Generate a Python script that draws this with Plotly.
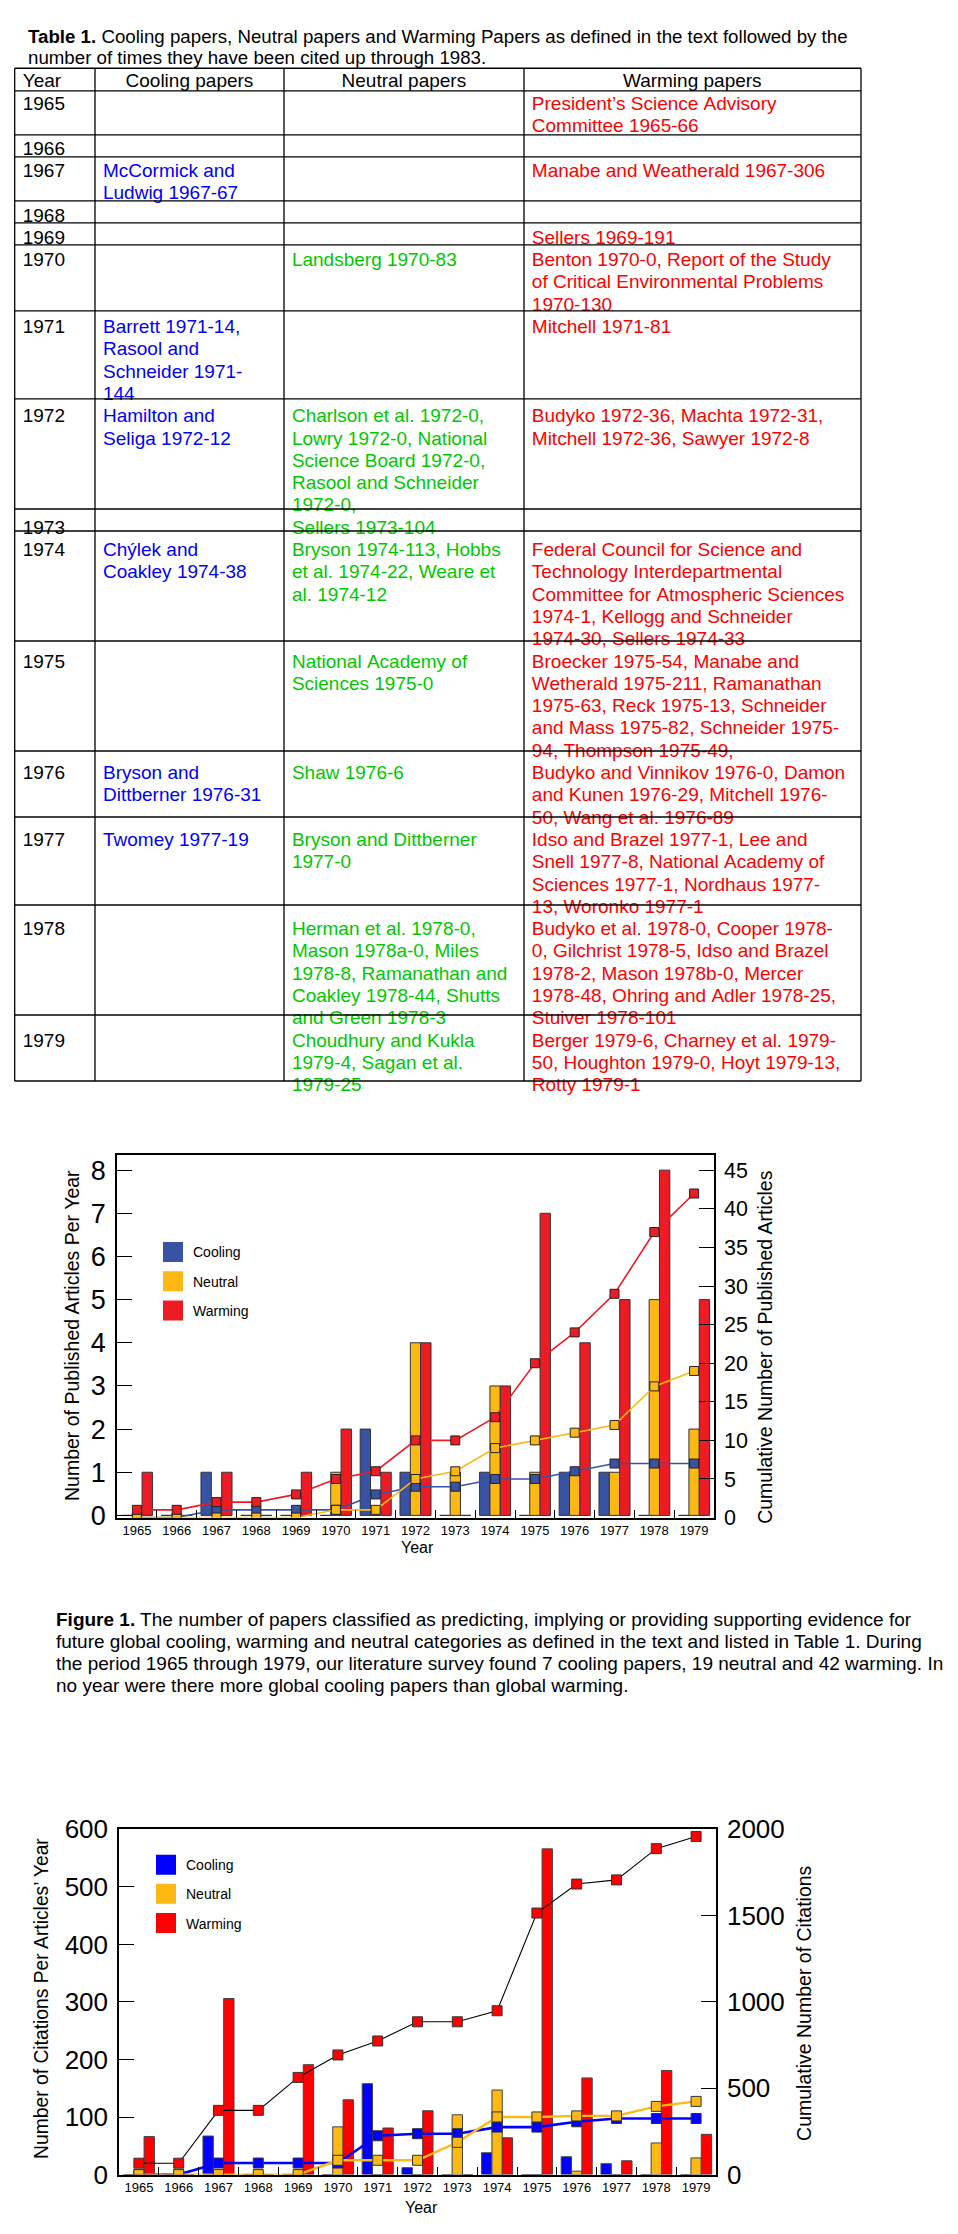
import plotly.graph_objects as go

# ---------------- data ----------------
years = ["1965", "1966", "1967", "1968", "1969", "1970", "1971", "1972",
         "1973", "1974", "1975", "1976", "1977", "1978", "1979"]

# Figure 1: number of published articles per year
articles_cooling = [0, 0, 1, 0, 0, 0, 2, 1, 0, 1, 0, 1, 1, 0, 0]
articles_neutral = [0, 0, 0, 0, 0, 1, 0, 4, 1, 3, 1, 1, 1, 5, 2]
articles_warming = [1, 0, 1, 0, 1, 2, 1, 4, 0, 3, 7, 4, 5, 8, 5]
cum_articles_cooling = [0, 0, 1, 1, 1, 1, 3, 4, 4, 5, 5, 6, 7, 7, 7]
cum_articles_neutral = [0, 0, 0, 0, 0, 1, 1, 5, 6, 9, 10, 11, 12, 17, 19]
cum_articles_warming = [1, 1, 2, 2, 3, 5, 6, 10, 10, 13, 20, 24, 29, 37, 42]

# Figure 2: citations per article year
citations_cooling = [0, 0, 67, 0, 0, 0, 158, 12, 0, 38, 0, 31, 19, 0, 0]
citations_neutral = [0, 0, 0, 0, 0, 83, 0, 0, 104, 147, 0, 6, 0, 55, 29]
citations_warming = [66, 0, 306, 0, 191, 130, 81, 111, 0, 64, 566, 168, 24, 181, 70]
cum_citations_cooling = [0, 0, 67, 67, 67, 67, 225, 237, 237, 275, 275, 306, 325, 325, 325]
cum_citations_neutral = [0, 0, 0, 0, 0, 83, 83, 83, 187, 334, 334, 340, 340, 395, 424]
cum_citations_warming = [66, 66, 372, 372, 563, 693, 774, 885, 885, 949, 1515, 1683, 1707, 1888, 1958]

# Table 1 (each cell is a list of its printed lines)
table_header = ["Year", "Cooling papers", "Neutral papers", "Warming papers"]
table_cooling = [
    [], [], ["McCormick and", "Ludwig 1967-67"], [], [], [],
    ["Barrett 1971-14,", "Rasool and", "Schneider 1971-", "144"],
    ["Hamilton and", "Seliga 1972-12"], [], ["Chýlek and", "Coakley 1974-38"], [],
    ["Bryson and", "Dittberner 1976-31"], ["Twomey 1977-19"], [], [],
]
table_neutral = [
    [], [], [], [], [], ["Landsberg 1970-83"], [],
    ["Charlson et al. 1972-0,", "Lowry 1972-0, National", "Science Board 1972-0,",
     "Rasool and Schneider", "1972-0,"],
    ["Sellers 1973-104"],
    ["Bryson 1974-113, Hobbs", "et al. 1974-22, Weare et", "al. 1974-12"],
    ["National Academy of", "Sciences 1975-0"],
    ["Shaw 1976-6"],
    ["Bryson and Dittberner", "1977-0"],
    ["Herman et al. 1978-0,", "Mason 1978a-0, Miles", "1978-8, Ramanathan and",
     "Coakley 1978-44, Shutts", "and Green 1978-3"],
    ["Choudhury and Kukla", "1979-4, Sagan et al.", "1979-25"],
]
table_warming = [
    ["President’s Science Advisory", "Committee 1965-66"],
    [],
    ["Manabe and Weatherald 1967-306"],
    [],
    ["Sellers 1969-191"],
    ["Benton 1970-0, Report of the Study", "of Critical Environmental Problems", "1970-130"],
    ["Mitchell 1971-81"],
    ["Budyko 1972-36, Machta 1972-31,", "Mitchell 1972-36, Sawyer 1972-8"],
    [],
    ["Federal Council for Science and", "Technology Interdepartmental",
     "Committee for Atmospheric Sciences", "1974-1, Kellogg and Schneider",
     "1974-30, Sellers 1974-33"],
    ["Broecker 1975-54, Manabe and", "Wetherald 1975-211, Ramanathan",
     "1975-63, Reck 1975-13, Schneider", "and Mass 1975-82, Schneider 1975-",
     "94, Thompson 1975-49,"],
    ["Budyko and Vinnikov 1976-0, Damon", "and Kunen 1976-29, Mitchell 1976-",
     "50, Wang et al. 1976-89"],
    ["Idso and Brazel 1977-1, Lee and", "Snell 1977-8, National Academy of",
     "Sciences 1977-1, Nordhaus 1977-", "13, Woronko 1977-1"],
    ["Budyko et al. 1978-0, Cooper 1978-", "0, Gilchrist 1978-5, Idso and Brazel",
     "1978-2, Mason 1978b-0, Mercer", "1978-48, Ohring and Adler 1978-25,",
     "Stuiver 1978-101"],
    ["Berger 1979-6, Charney et al. 1979-", "50, Houghton 1979-0, Hoyt 1979-13,",
     "Rotty 1979-1"],
]

table_title = ["<b>Table 1.</b> Cooling papers, Neutral papers and Warming Papers as defined in the text followed by the",
               "number of times they have been cited up through 1983."]
caption_lines = [
    "<b>Figure 1.</b> The number of papers classified as predicting, implying or providing supporting evidence for",
    "future global cooling, warming and neutral categories as defined in the text and listed in Table 1. During",
    "the period 1965 through 1979, our literature survey found 7 cooling papers, 19 neutral and 42 warming. In",
    "no year were there more global cooling papers than global warming.",
]
chart1_titles = ["Number of Published Articles Per Year", "Cumulative Number of Published Articles"]
chart2_titles = ["Number of Citations Per Articles’ Year", "Cumulative Number of Citations"]

# ---------------- styling ----------------
W, H = 958, 2234
FONT = "Liberation Sans, Arial, sans-serif"


def px(x):
    return x / W


def py(y):
    return 1 - y / H


C1 = {"c": "#3953A4", "n": "#FDB913", "w": "#ED1C24"}
C2 = {"c": "#0000FF", "n": "#FDB913", "w": "#FF0000"}

fig = go.Figure()

# ---------------- table ----------------
NB = "\u00a0"
tab_cols = [[], [], [], []]
line_counts = []
for yr, c, n, w in zip(years, table_cooling, table_neutral, table_warming):
    k = max(1, len(c), len(n), len(w))
    line_counts.append(k)
    for i in range(k):
        tab_cols[0].append(yr if i == 0 else "")
        tab_cols[1].append(c[i].replace(" ", NB) if i < len(c) else "")
        tab_cols[2].append(n[i].replace(" ", NB) if i < len(n) else "")
        tab_cols[3].append(w[i].replace(" ", NB) if i < len(w) else "")

TAB_L, TAB_R, TAB_T = 14.7, 861.0, 54.0
HEAD_H, LINE_H = 23.0, 22.3
TEXT_SHIFT = 3.5
col_w = [80.3, 189.0, 240.0, 337.0]
clear = "rgba(0,0,0,0)"

fig.add_trace(go.Table(
    domain=dict(x=[px(TAB_L), px(TAB_R)], y=[py(1100), py(TAB_T - TEXT_SHIFT)]),
    columnwidth=col_w,
    header=dict(values=[h.replace(" ", NB) for h in table_header],
                align=["left", "center", "center", "center"],
                height=HEAD_H,
                font=dict(family=FONT, size=19, color="black"),
                fill_color=clear, line=dict(width=0, color=clear)),
    cells=dict(values=tab_cols, align="left", height=LINE_H,
               font=dict(family=FONT, size=19,
                         color=["black", "#0000FF", "#00C800", "#FF0000"]),
               fill_color=clear, line=dict(width=0, color=clear)),
))

# table grid
edges_y = [TAB_T, TAB_T + HEAD_H]
for k in line_counts:
    edges_y.append(edges_y[-1] + k * LINE_H)
edges_x = [TAB_L]
scale = (TAB_R - TAB_L) / sum(col_w)
for cw in col_w:
    edges_x.append(edges_x[-1] + cw * scale)
shapes = []
for yv in edges_y:
    shapes.append(dict(type="line", xref="paper", yref="paper", x0=px(TAB_L), x1=px(TAB_R),
                       y0=py(yv), y1=py(yv), line=dict(color="black", width=1.3)))
for xv in edges_x:
    shapes.append(dict(type="line", xref="paper", yref="paper", x0=px(xv), x1=px(xv),
                       y0=py(edges_y[0]), y1=py(edges_y[-1]), line=dict(color="black", width=1.3)))

annotations = []


def note(text, x, y, size, xanchor="left", angle=0):
    annotations.append(dict(text=text, xref="paper", yref="paper", x=px(x), y=py(y),
                            xanchor=xanchor, yanchor="middle", showarrow=False, textangle=angle,
                            font=dict(family=FONT, size=size, color="black")))


for i, t in enumerate(table_title):
    note(t, 26, 22 + 21.5 * i, 18.7)
for i, t in enumerate(caption_lines):
    note(t, 54, 1626 + 22.4 * i, 19)

# axis titles
note(chart1_titles[0], 72, 1339, 19.5, "center", -90)
note(chart1_titles[1], 765, 1350, 19.5, "center", -90)
note("Year", 417, 1553, 16, "center")
note(chart2_titles[0], 42, 2011, 19.3, "center", -90)
note(chart2_titles[1], 804, 2015, 19.5, "center", -90)
note("Year", 421, 2222, 16, "center")

# ---------------- chart 1 ----------------
bar_line1 = dict(color="#333333", width=1)
for name, vals, key in [("Cooling", articles_cooling, "c"), ("Neutral", articles_neutral, "n"),
                        ("Warming", articles_warming, "w")]:
    fig.add_trace(go.Bar(x=years, y=vals, name=name, marker=dict(color=C1[key], line=bar_line1),
                         xaxis="x", yaxis="y", showlegend=False, legendgroup="a" + key))
for name, vals, key in [("Cooling", cum_articles_cooling, "c"), ("Neutral", cum_articles_neutral, "n"),
                        ("Warming", cum_articles_warming, "w")]:
    fig.add_trace(go.Scatter(x=years, y=vals, name=name + " (cumulative)", mode="lines+markers",
                             line=dict(color=C1[key], width=1.6),
                             marker=dict(symbol="square", size=9, color=C1[key],
                                         line=dict(color="#222222", width=1)),
                             xaxis="x", yaxis="y2", showlegend=False))
for name, key in [("Cooling", "c"), ("Neutral", "n"), ("Warming", "w")]:
    fig.add_trace(go.Scatter(x=[None], y=[None], mode="markers", name=name, legend="legend",
                             legendgroup="a" + key,
                             marker=dict(symbol="square", size=16, color=C1[key],
                                         line=dict(color=C1[key], width=4)),
                             xaxis="x", yaxis="y"))

# ---------------- chart 2 ----------------
bar_line2 = dict(color="#444444", width=1)
for name, vals, key in [("Cooling", citations_cooling, "c"), ("Neutral", citations_neutral, "n"),
                        ("Warming", citations_warming, "w")]:
    fig.add_trace(go.Bar(x=years, y=vals, name=name, marker=dict(color=C2[key], line=bar_line2),
                         xaxis="x2", yaxis="y3", showlegend=False))
for name, vals, key, lc, lw in [("Cooling", cum_citations_cooling, "c", "#0000FF", 2.6),
                                ("Neutral", cum_citations_neutral, "n", "#FDB913", 2.4),
                                ("Warming", cum_citations_warming, "w", "#000000", 1.1)]:
    fig.add_trace(go.Scatter(x=years, y=vals, name=name + " (cumulative)", mode="lines+markers",
                             line=dict(color=lc, width=lw),
                             marker=dict(symbol="square", size=10, color=C2[key],
                                         line=dict(color="#333333", width=1)),
                             xaxis="x2", yaxis="y4", showlegend=False))
for name, key in [("Cooling", "c"), ("Neutral", "n"), ("Warming", "w")]:
    fig.add_trace(go.Scatter(x=[None], y=[None], mode="markers", name=name, legend="legend2",
                             legendgroup="b" + key,
                             marker=dict(symbol="square", size=16, color=C2[key],
                                         line=dict(color=C2[key], width=4)),
                             xaxis="x2", yaxis="y3"))

# ---------------- axes ----------------
def xax(domain, anchor):
    return dict(domain=domain, anchor=anchor, type="category", categoryorder="array",
                categoryarray=years, range=[-0.5, 14.5], tickson="boundaries",
                ticks="inside", ticklen=8, tickcolor="black", tickwidth=1.2,
                showline=True, linecolor="black", linewidth=1.5, mirror=True,
                showgrid=False, zeroline=False,
                tickfont=dict(family=FONT, size=13, color="black"))


def yax(domain, anchor, rng, dtick, fs, side="left", overlaying=None):
    d = dict(domain=domain, anchor=anchor, range=rng, dtick=dtick, tick0=0, side=side,
             ticks="inside", ticklen=15, tickcolor="black", tickwidth=1.2,
             showline=True, linecolor="black", linewidth=1.5, showgrid=False, zeroline=False,
             ticklabelstandoff=4,
             tickfont=dict(family=FONT, size=fs, color="black"))
    if overlaying:
        d["overlaying"] = overlaying
    return d


d1x = [px(117), px(714)]
d1y = [py(1523), py(1156)]
d2x = [px(119), px(716)]
d2y = [py(2189), py(1839)]

fig.update_layout(
    width=W, height=H, margin=dict(l=0, r=0, t=0, b=0),
    paper_bgcolor="white", plot_bgcolor="white",
    font=dict(family=FONT, color="black"),
    barmode="group", bargap=0.22, bargroupgap=0,
    xaxis=xax(d1x, "y"),
    yaxis=yax(d1y, "x", [-0.05, 8.34], 1, 27),
    yaxis2=yax(d1y, "x", [0, 46.93], 5, 21.5, side="right", overlaying="y"),
    xaxis2=xax(d2x, "y3"),
    yaxis3=yax(d2y, "x2", [0, 600], 100, 26),
    yaxis4=yax(d2y, "x2", [0, 2000], 500, 26, side="right", overlaying="y3"),
    legend=dict(x=px(153), y=py(1238), xanchor="left", yanchor="top", bgcolor=clear,
                font=dict(family=FONT, size=14, color="black"), tracegroupgap=8,
                itemsizing="trace"),
    legend2=dict(x=px(146), y=py(1859), xanchor="left", yanchor="top", bgcolor=clear,
                 font=dict(family=FONT, size=14, color="black"), tracegroupgap=8,
                 itemsizing="trace"),
    shapes=shapes,
    annotations=annotations,
)

fig.write_html("out.html", config={"displayModeBar": False},
               post_script="document.body.style.margin='0px';document.documentElement.style.margin='0px';")
